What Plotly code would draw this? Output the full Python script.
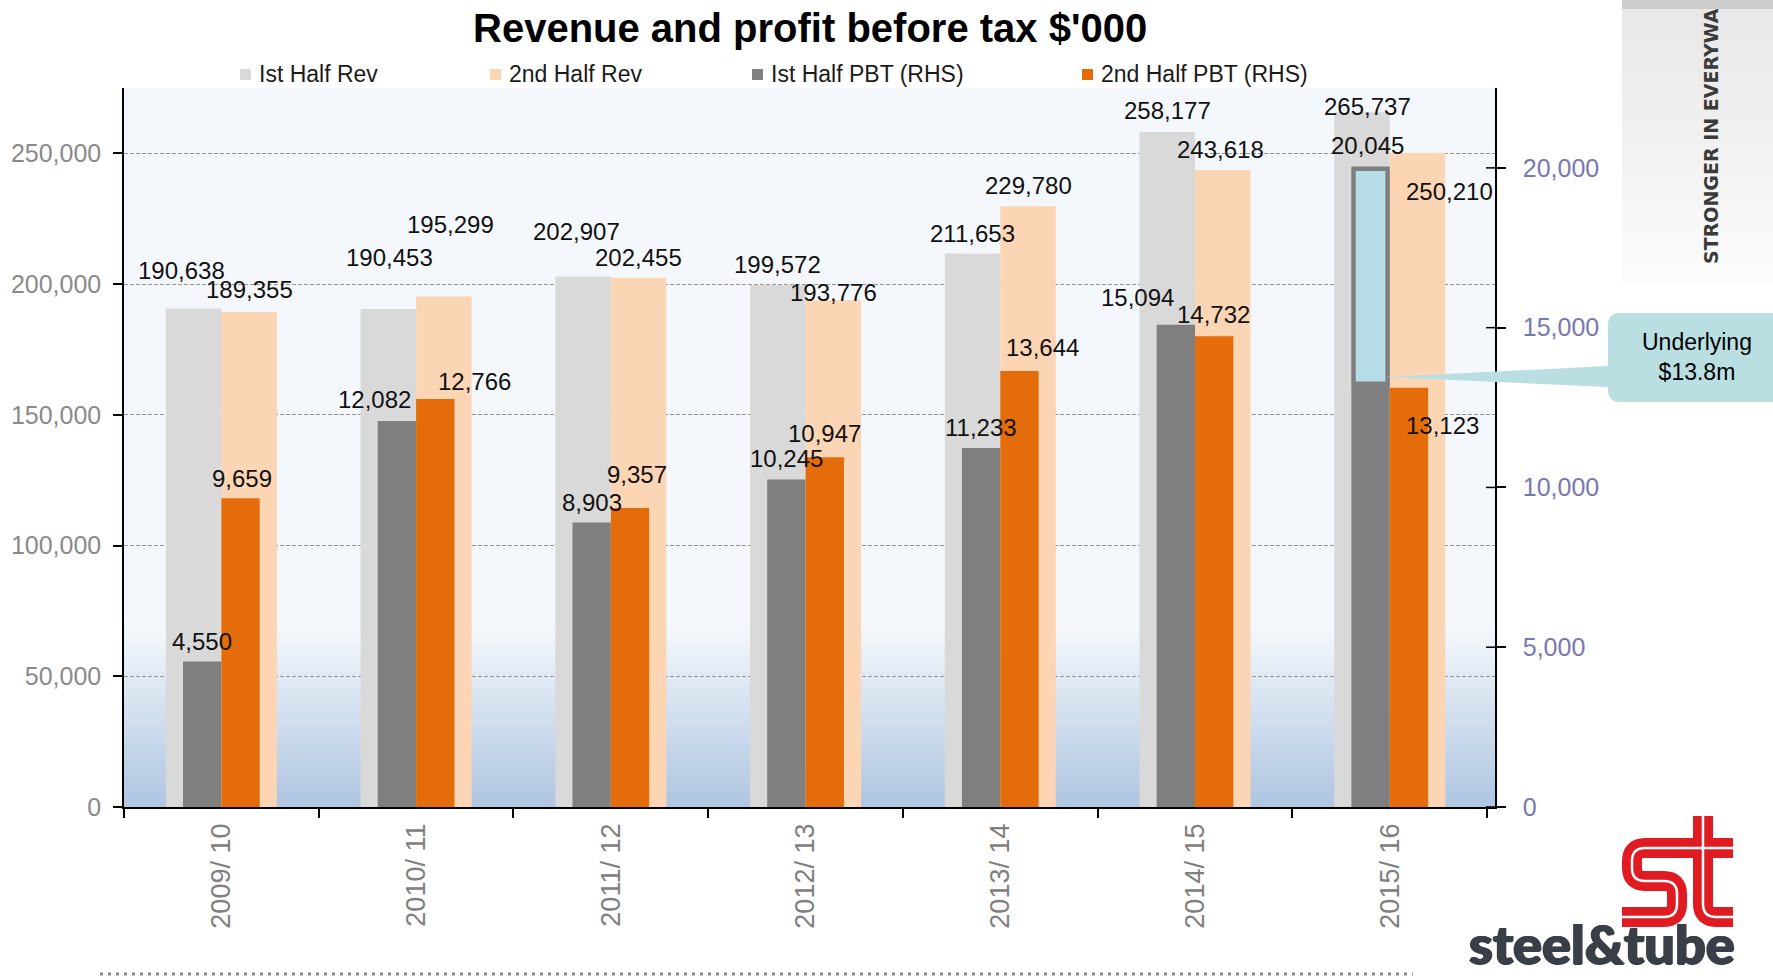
import plotly.graph_objects as go

# ---------------- data ----------------
CATEGORIES = ["2009/ 10", "2010/ 11", "2011/ 12", "2012/ 13", "2013/ 14", "2014/ 15", "2015/ 16"]
REV_H1 = [190638, 190453, 202907, 199572, 211653, 258177, 265737]
REV_H2 = [189355, 195299, 202455, 193776, 229780, 243618, 250210]
PBT_H1 = [4550, 12082, 8903, 10245, 11233, 15094, 20045]
PBT_H2 = [9659, 12766, 9357, 10947, 13644, 14732, 13123]
SERIES_NAMES = ["Ist Half Rev", "2nd Half Rev", "Ist Half PBT (RHS)", "2nd Half PBT (RHS)"]
LEFT_TICKS = [0, 50000, 100000, 150000, 200000, 250000]
RIGHT_TICKS = [0, 5000, 10000, 15000, 20000]
HIGHLIGHT_INDEX = 6          # 2015/16 first-half PBT
HIGHLIGHT_FROM = 13250       # RHS value where the highlighted (one-off) part starts
TITLE = "Revenue and profit before tax $'000"
CALLOUT_TEXT = "Underlying<br>$13.8m"
SIDE_TEXT = "STRONGER IN EVERYWA"
LOGO_TEXT = "steel&amp;tube"

# label nudges (px) as placed in the reference
REV1_DX = [-12, 1, -7, 0, 0, 0, 5]
REV1_DY = [-38, -52, -45, -21, -20, -21, -6]
REV2_DX = [0, 7, 0, 0, 0, -2, 32]
REV2_DY = [-22, -72, -20, -8, -21, -21, 39]
PBT1_DX = [0, -22, 0, 0, 0, -38, -3]
PBT1_DY = [-20, -21, -20, -21, -21, -27, -21]
PBT2_DX = [1, 39, 7, 0, 23, -1, 34]
PBT2_DY = [-20, -18, -33, -24, -24, -22, 38]

# ---------------- style / geometry ----------------
W, H = 1773, 978
PL, PR, PT, PB = 124, 1495, 88, 807
C_REV1, C_REV2, C_PBT1, C_PBT2 = "#d9d9d9", "#fcd5b4", "#7f7f7f", "#e46c0a"
REV_W, PBT_W = 0.285, 0.197
FONT = "Liberation Sans, Arial, sans-serif"


def px(x):
    return (x - PL) / (PR - PL)


def py(y):
    return (PB - y) / (PB - PT)


def hexmix(c1, c2, t):
    a = [int(c1[i:i + 2], 16) for i in (1, 3, 5)]
    b = [int(c2[i:i + 2], 16) for i in (1, 3, 5)]
    return "#" + "".join(f"{round(a[k] + (b[k] - a[k]) * t):02x}" for k in range(3))


def path(cmds):
    out = []
    for c in cmds:
        if isinstance(c, str):
            out.append(c)
        else:
            out.append(f"{px(c[0]):.5f},{py(c[1]):.5f}")
    return " ".join(out)


fig = go.Figure()

specs = [
    (REV_H1, "y", REV_W, -REV_W, C_REV1, REV1_DX, REV1_DY),
    (REV_H2, "y", REV_W, 0.0, C_REV2, REV2_DX, REV2_DY),
    (PBT_H1, "y2", PBT_W, -PBT_W, C_PBT1, PBT1_DX, PBT1_DY),
    (PBT_H2, "y2", PBT_W, 0.0, C_PBT2, PBT2_DX, PBT2_DY),
]

for name, (vals, ax, w, off, col, dxs, dys) in zip(SERIES_NAMES, specs):
    fig.add_trace(go.Bar(
        x=CATEGORIES, y=vals, yaxis=ax, width=w, offset=off, name=name,
        marker=dict(color=col, line=dict(width=0)), showlegend=False, hoverinfo="skip",
    ))

annotations = []
for vals, ax, w, off, col, dxs, dys in specs:
    for i, v in enumerate(vals):
        annotations.append(dict(
            x=i + off + w / 2, y=v, xref="x", yref=ax, text=f"{v:,}", showarrow=False,
            xanchor="center", yanchor="middle", xshift=dxs[i], yshift=-dys[i],
            font=dict(family=FONT, size=24, color="#111111"),
        ))

shapes = []
# plot-area gradient (bottom quarter fades to blue)
N = 40
for k in range(N):
    t0, t1 = k / N, (k + 1) / N
    shapes.append(dict(type="rect", xref="paper", yref="paper", x0=0, x1=1,
                       y0=0.25 * t0, y1=0.25 * t1 + 0.001, layer="below",
                       fillcolor=hexmix("#afc5e1", "#f4f8fc", (t0 + t1) / 2), line=dict(width=0)))

# right-axis ticks crossing to the inside
for v in RIGHT_TICKS:
    shapes.append(dict(type="line", xref="paper", yref="y2", x0=1 - 9 / (PR - PL), x1=1,
                       y0=v, y1=v, line=dict(color="#000000", width=1.5)))

# highlighted part of 2015/16 first half PBT
shapes.append(dict(type="rect", xref="x", yref="y2",
                   x0=HIGHLIGHT_INDEX - PBT_W + 0.012, x1=HIGHLIGHT_INDEX - 0.012,
                   y0=HIGHLIGHT_FROM, y1=PBT_H1[HIGHLIGHT_INDEX] - 80,
                   fillcolor="#b7dde8", line=dict(color="#7f7f7f", width=4), layer="above"))

# callout bubble
x0, x1, top, bot, r = 1608, 1800, 313, 402, 12
shapes.append(dict(type="path", xref="paper", yref="paper", layer="above",
                   fillcolor="#b9dfe3", line=dict(width=0),
                   path=path(["M", (x0 + r, top), "L", (x1, top), "L", (x1, bot), "L", (x0 + r, bot),
                              "Q", (x0, bot), (x0, bot - r), "L", (x0, 387), "L", (1385, 377),
                              "L", (x0, 366), "L", (x0, top + r), "Q", (x0, top), (x0 + r, top), "Z"])))
annotations.append(dict(x=px(1697), y=py(357), xref="paper", yref="paper", text=CALLOUT_TEXT,
                        showarrow=False, xanchor="center", yanchor="middle", align="center",
                        font=dict(family=FONT, size=23, color="#000000")))

# legend (custom)
leg_text_x = [257, 507, 769, 1099]
for name, col, tx in zip(SERIES_NAMES, [C_REV1, C_REV2, C_PBT1, C_PBT2], leg_text_x):
    shapes.append(dict(type="rect", xref="paper", yref="paper", x0=px(tx - 17), x1=px(tx - 6),
                       y0=py(80), y1=py(69), fillcolor=col, line=dict(width=0)))
    annotations.append(dict(x=px(tx), y=py(74), xref="paper", yref="paper", text=name,
                            showarrow=False, xanchor="left", yanchor="middle",
                            font=dict(family=FONT, size=23, color="#1a1a1a")))

# title
annotations.append(dict(x=px(810), y=py(28), xref="paper", yref="paper", text=f"<b>{TITLE}</b>",
                        showarrow=False, xanchor="center", yanchor="middle",
                        font=dict(family=FONT, size=40, color="#000000")))

# right decorative panel
panel_top, panel_bot = 0, 283
M = 30
for k in range(M):
    y_a = panel_top + 8 + (panel_bot - panel_top - 8) * k / M
    y_b = panel_top + 8 + (panel_bot - panel_top - 8) * (k + 1) / M
    shapes.append(dict(type="rect", xref="paper", yref="paper", x0=px(1622), x1=px(1780),
                       y0=py(y_b + 0.5), y1=py(y_a), layer="below",
                       fillcolor=hexmix("#e8e8e8", "#fcfcfc", k / M), line=dict(width=0)))
shapes.append(dict(type="rect", xref="paper", yref="paper", x0=px(1622), x1=px(1780),
                   y0=py(9), y1=py(-2), layer="below", fillcolor="#cdcdcd", line=dict(width=0)))
annotations.append(dict(x=px(1711), y=py(266), xref="paper", yref="paper", text=f"<b>{SIDE_TEXT}</b>",
                        showarrow=False, textangle=-90, xanchor="center", yanchor="bottom",
                        font=dict(family="DejaVu Sans, sans-serif", size=19, color="#3b3b3b")))

# logo
s_path = ["M", (1733, 848), "L", (1645, 848), "Q", (1632, 848), (1632, 861), "L", (1632, 868),
          "Q", (1632, 881), (1645, 881), "L", (1664, 881), "Q", (1677, 881), (1677, 894),
          "L", (1677, 904), "Q", (1677, 917), (1664, 917), "L", (1622, 917)]
t_path = ["M", (1703, 816), "L", (1703, 904), "Q", (1703, 917), (1716, 917), "L", (1733, 917)]
for p in (s_path, t_path):
    shapes.append(dict(type="path", xref="paper", yref="paper", path=path(p),
                       fillcolor="rgba(0,0,0,0)", line=dict(color="#e11b22", width=20)))
for p in (s_path, t_path):
    shapes.append(dict(type="path", xref="paper", yref="paper", path=path(p),
                       fillcolor="rgba(0,0,0,0)", line=dict(color="#ffffff", width=2.5)))
annotations.append(dict(x=px(1736), y=py(977), xref="paper", yref="paper", text=LOGO_TEXT,
                        showarrow=False, xanchor="right", yanchor="bottom", borderpad=0,
                        font=dict(family="Lato, sans-serif", size=54, color="#3a3f47", weight=900,
                                  shadow="1px 0 0 #3a3f47, -1px 0 0 #3a3f47, 0 1px 0 #3a3f47")))

# dotted footer line
shapes.append(dict(type="line", xref="paper", yref="paper", x0=px(100), x1=px(1413),
                   y0=py(974), y1=py(974), line=dict(color="#8c8c8c", width=3, dash="3px,5px")))

fig.update_layout(
    width=W, height=H, autosize=False,
    margin=dict(l=PL, r=W - PR, t=PT, b=H - PB, pad=0),
    paper_bgcolor="#ffffff", plot_bgcolor="#f4f8fc",
    barmode="overlay", showlegend=False,
    shapes=shapes, annotations=annotations,
    xaxis=dict(type="category", categoryorder="array", categoryarray=CATEGORIES,
               tickangle=-90, tickson="boundaries", ticks="outside", ticklen=9, tickwidth=1.5,
               tickcolor="#000000", showline=True, linecolor="#000000", linewidth=1.5,
               showgrid=False, ticklabelstandoff=4,
               tickfont=dict(family=FONT, size=27, color="#808080")),
    yaxis=dict(range=[0, 275000], tickvals=LEFT_TICKS, tickformat=",", ticks="outside",
               ticklen=9, tickwidth=1.5, tickcolor="#000000", showline=True, linecolor="#000000",
               linewidth=1.5, showgrid=True, gridcolor="#959595", gridwidth=1, griddash="4px,2px",
               zeroline=False, ticklabelstandoff=7,
               tickfont=dict(family=FONT, size=25, color="#8a8a8a")),
    yaxis2=dict(range=[0, 22500], tickvals=RIGHT_TICKS, tickformat=",", overlaying="y", side="right",
                ticks="outside", ticklen=9, tickwidth=1.5, tickcolor="#000000", showline=True,
                linecolor="#000000", linewidth=1.5, showgrid=False, zeroline=False,
                ticklabelstandoff=12,
                tickfont=dict(family=FONT, size=25, color="#7878b0")),
)

fig.write_html("out.html", include_plotlyjs=True, config={"displayModeBar": False},
               post_script="document.body.style.margin='0';document.body.style.overflow='hidden';")
